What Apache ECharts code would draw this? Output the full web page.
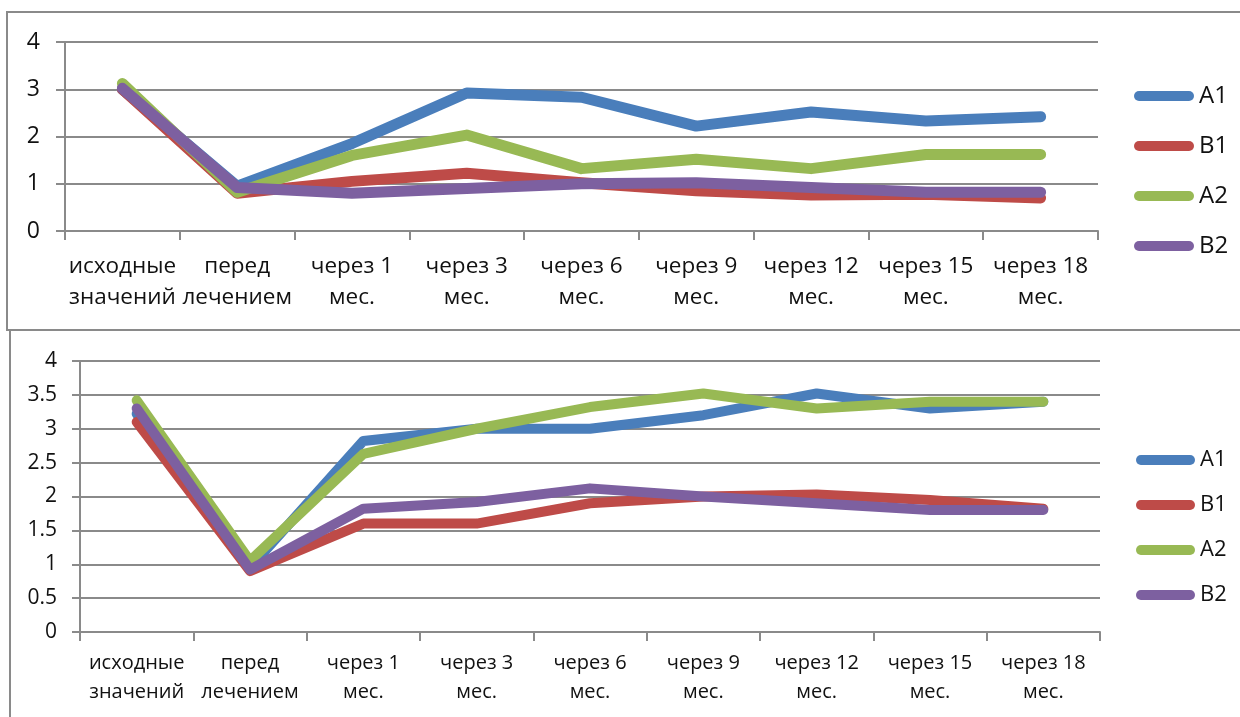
<!DOCTYPE html>
<html>
<head>
<meta charset="utf-8">
<script src="https://cdn.jsdelivr.net/npm/echarts@6/dist/echarts.min.js"></script>
<style>
html,body{margin:0;padding:0;background:#fff;}
#c{width:1240px;height:717px;}
</style>
</head>
<body>
<div id="c"></div>
<script>
var categories = ['исходные\nзначений', 'перед\nлечением', 'через 1\nмес.', 'через 3\nмес.', 'через 6\nмес.', 'через 9\nмес.', 'через 12\nмес.', 'через 15\nмес.', 'через 18\nмес.'];
var seriesNames = ['A1', 'B1', 'A2', 'B2'];
var seriesColors = ['#4A7EBB', '#BE4B48', '#98B954', '#7D60A0'];

var topA1 = [3.0, 0.95, 1.85, 2.92, 2.83, 2.22, 2.52, 2.33, 2.42];
var topB1 = [3.0, 0.8, 1.05, 1.22, 1.02, 0.85, 0.76, 0.78, 0.7];
var topA2 = [3.12, 0.82, 1.6, 2.03, 1.32, 1.52, 1.32, 1.62, 1.62];
var topB2 = [3.02, 0.92, 0.8, 0.9, 1.0, 1.02, 0.92, 0.82, 0.82];

var botA1 = [3.22, 0.95, 2.82, 3.0, 3.0, 3.2, 3.52, 3.3, 3.4];
var botB1 = [3.1, 0.9, 1.6, 1.6, 1.9, 2.0, 2.03, 1.95, 1.82];
var botA2 = [3.42, 1.05, 2.63, 3.0, 3.32, 3.52, 3.3, 3.4, 3.4];
var botB2 = [3.3, 0.92, 1.82, 1.92, 2.12, 2.0, 1.9, 1.8, 1.8];

var topTicks = [0, 1, 2, 3, 4];
var botTicks = [0, 0.5, 1, 1.5, 2, 2.5, 3, 3.5, 4];

var FONT = 'Open Sans';
var GRAY = '#8a8a8a';
var pill = 'path://M5,0 L55,0 A5,5 0 0 1 55,10 L5,10 A5,5 0 0 1 5,0 Z';

function xAxisFor(gi, fs, lh, margin) {
  return {
    type: 'category', gridIndex: gi, data: categories, boundaryGap: true,
    axisLine: {show: true, lineStyle: {color: GRAY, width: 2}},
    axisTick: {show: true, length: 9, lineStyle: {color: GRAY, width: 2}},
    axisLabel: {fontFamily: FONT, fontSize: fs, lineHeight: lh, color: '#111', margin: margin, interval: 0}
  };
}
function yAxisFor(gi, ticks, fs, margin, tickLen) {
  return {
    type: 'value', gridIndex: gi, min: ticks[0], max: ticks[ticks.length - 1], interval: ticks[1] - ticks[0],
    axisLine: {show: true, lineStyle: {color: GRAY, width: 2}},
    axisTick: {show: true, length: tickLen, lineStyle: {color: GRAY, width: 2}},
    splitLine: {show: true, lineStyle: {color: GRAY, width: 2}},
    axisLabel: {fontFamily: FONT, fontSize: fs, color: '#111', margin: margin}
  };
}
function mk(name, data, idx, gi, w) {
  return {
    name: name, type: 'line', xAxisIndex: gi, yAxisIndex: gi, data: data,
    showSymbol: false, symbol: 'none', smooth: false, animation: false,
    color: seriesColors[idx],
    lineStyle: {width: w, color: seriesColors[idx], cap: 'round', join: 'round'}
  };
}

var chart = echarts.init(document.getElementById('c'), null, {renderer: 'canvas'});
chart.setOption({
  backgroundColor: '#fff',
  animation: false,
  grid: [
    {left: 65, top: 42, width: 1033, height: 189},
    {left: 80, top: 361, width: 1020, height: 271}
  ],
  xAxis: [xAxisFor(0, 22.5, 31, 20), xAxisFor(1, 20, 29, 17)],
  yAxis: [yAxisFor(0, topTicks, 23, 25, 9), yAxisFor(1, botTicks, 21, 23, 8)],
  legend: [
    {orient: 'vertical', left: 1134, top: 84, padding: 0, itemWidth: 60, itemHeight: 10, itemGap: 26, icon: pill,
     data: seriesNames, textStyle: {fontFamily: FONT, fontSize: 24, lineHeight: 24, color: '#111'}, selectedMode: false},
    {orient: 'vertical', left: 1136, top: 449, padding: 0, itemWidth: 59, itemHeight: 10, itemGap: 23, icon: pill,
     data: seriesNames, textStyle: {fontFamily: FONT, fontSize: 22, lineHeight: 22, color: '#111'}, selectedMode: false}
  ],
  graphic: [
    {type: 'polyline', shape: {points: [[1240, 12], [7, 12], [7, 330], [1240, 330]]}, style: {stroke: GRAY, lineWidth: 2, fill: null}, silent: true},
    {type: 'line', shape: {x1: 10, y1: 330, x2: 10, y2: 717}, style: {stroke: GRAY, lineWidth: 2}, silent: true}
  ],
  series: [
    mk('A1', topA1, 0, 0, 11), mk('B1', topB1, 1, 0, 11), mk('A2', topA2, 2, 0, 11), mk('B2', topB2, 3, 0, 11),
    mk('A1', botA1, 0, 1, 10), mk('B1', botB1, 1, 1, 10), mk('A2', botA2, 2, 1, 10), mk('B2', botB2, 3, 1, 10)
  ]
});
</script>
</body>
</html>
